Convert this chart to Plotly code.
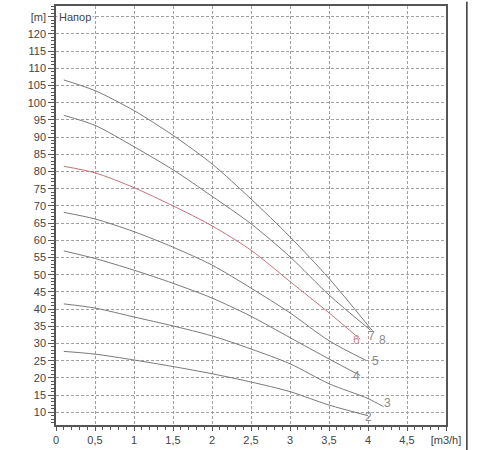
import plotly.graph_objects as go

# flow Q [m3/h] and head H [m] for each pump curve
q2 = [0.1, 0.5, 1.0, 1.5, 2.0, 2.5, 3.0, 3.5, 4.0]
h2 = [27.7, 26.9, 25.2, 23.3, 21.2, 18.8, 16.0, 12.1, 9.0]

q3 = [0.1, 0.5, 1.0, 1.5, 2.0, 2.5, 3.0, 3.5, 4.0, 4.2]
h3 = [41.5, 40.3, 37.7, 35.1, 32.2, 28.4, 24.1, 18.3, 14.0, 11.6]

q4 = [0.1, 0.5, 1.0, 1.5, 2.0, 2.5, 3.0, 3.5, 3.9]
h4 = [56.9, 54.7, 51.3, 47.5, 43.2, 37.9, 31.7, 25.5, 20.7]

q5 = [0.1, 0.5, 1.0, 1.5, 2.0, 2.5, 3.0, 3.5, 3.98]
h5 = [68.1, 66.2, 62.5, 58.0, 52.8, 46.1, 38.9, 30.8, 25.0]

q6 = [0.1, 0.5, 1.0, 1.5, 2.0, 2.5, 3.0, 3.5, 3.9]
h6 = [81.5, 79.6, 75.3, 70.0, 64.2, 57.1, 48.0, 38.9, 31.2]

q7 = [0.1, 0.5, 1.0, 1.5, 2.0, 2.5, 3.0, 3.5, 4.03]
h7 = [96.3, 93.4, 87.2, 80.5, 72.8, 64.8, 55.2, 44.1, 33.9]

q8 = [0.1, 0.5, 1.0, 1.5, 2.0, 2.5, 3.0, 3.5, 4.06]
h8 = [106.6, 103.5, 97.7, 90.5, 82.2, 72.0, 61.0, 48.9, 33.6]

curve_names = ["2", "3", "4", "5", "6", "7", "8"]

x_ticks = [0, 0.5, 1, 1.5, 2, 2.5, 3, 3.5, 4, 4.5, 5]
x_labels = ["0", "0,5", "1", "1,5", "2", "2,5", "3", "3,5", "4", "4,5", "[m3/h]"]
y_ticks = list(range(10, 130, 5))
y_labels = [str(v) for v in range(10, 125, 5)] + ["[m]"]

# where each curve's number sits (near its end)
lbl_q = [4.0, 4.25, 3.85, 4.1, 3.85, 4.05, 4.18]
lbl_h = [8.5, 12.8, 20.5, 25.0, 31.0, 32.3, 31.0]

grey = "#7a7a7a"
red = "#c4727c"

fig = go.Figure()

series = [(q2, h2), (q3, h3), (q4, h4), (q5, h5), (q6, h6), (q7, h7), (q8, h8)]
for name, (q, h) in zip(curve_names, series):
    fig.add_trace(go.Scatter(x=q, y=h, mode="lines", name=name,
                             line=dict(color=red if name == "6" else grey, width=1,
                                       shape="spline", smoothing=0.8),
                             hoverinfo="skip"))

for name, q, h in zip(curve_names, lbl_q, lbl_h):
    fig.add_annotation(x=q, y=h, text=name, showarrow=False,
                       font=dict(size=12, color="#d08a94" if name == "6" else "#8a8a8a"))

fig.add_annotation(x=0, y=125, xref="x", yref="y", text="Напор", showarrow=False,
                   xanchor="left", xshift=1, bgcolor="white",
                   font=dict(size=11, color="#444"))

# thin line at the right edge of the picture
fig.add_shape(type="line", xref="paper", yref="paper", x0=1.0535, x1=1.0535,
              y0=-0.06, y1=1.01, line=dict(color="#333", width=1.5))

fig.update_xaxes(range=[0, 5], tickvals=x_ticks, ticktext=x_labels,
                 showgrid=True, gridcolor="#a0a0a0", griddash="3px,2px", gridwidth=1,
                 showline=True, linecolor="#555", linewidth=1.5, mirror=True,
                 ticks="outside", ticklen=4, tickcolor="#555",
                 minor=dict(tickmode="linear", tick0=0, dtick=0.1, ticks="outside",
                            ticklen=3, tickcolor="#555", showgrid=False),
                 tickfont=dict(size=11, color="#444"), zeroline=False)
fig.update_yaxes(range=[6.3, 128.1], tickvals=y_ticks, ticktext=y_labels,
                 showgrid=True, gridcolor="#a0a0a0", griddash="3px,2px", gridwidth=1,
                 showline=True, linecolor="#555", linewidth=1.5, mirror=True,
                 ticks="outside", ticklen=6, tickcolor="#555",
                 minor=dict(tickmode="linear", tick0=0, dtick=1, ticks="outside",
                            ticklen=3, tickcolor="#555", showgrid=False),
                 tickfont=dict(size=11, color="#444"), zeroline=False)

fig.update_layout(width=500, height=450, showlegend=False,
                  margin=dict(l=56, r=54, t=4, b=22),
                  plot_bgcolor="white", paper_bgcolor="white",
                  font=dict(family="Liberation Sans, Arial, sans-serif"))

fig.write_html("out.html", config={"displayModeBar": False},
               post_script="document.body.style.margin='0';")
